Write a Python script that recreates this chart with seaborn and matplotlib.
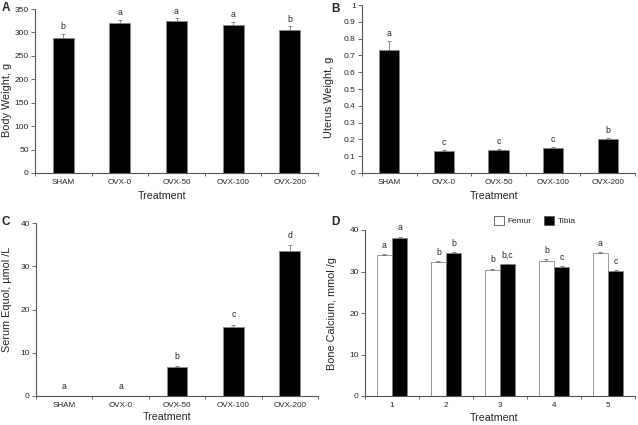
import numpy as np
import pandas as pd
import matplotlib
matplotlib.use('Agg')
import matplotlib.pyplot as plt
import seaborn as sns

# data
treatments = ['SHAM', 'OVX-0', 'OVX-50', 'OVX-100', 'OVX-200']

body_weight = [288, 320, 324, 315, 305]
body_weight_err = [8, 7, 6, 7, 8]
body_weight_sig = ['b', 'a', 'a', 'a', 'b']

uterus_weight = [0.735, 0.13, 0.135, 0.147, 0.202]
uterus_weight_err = [0.05, 0.005, 0.005, 0.006, 0.004]
uterus_weight_sig = ['a', 'c', 'c', 'c', 'b']

equol = [0, 0, 6.6, 16.0, 33.6]
equol_err = [0, 0, 0.3, 0.5, 1.2]
equol_sig = ['a', 'a', 'b', 'c', 'd']

calc_groups = ['1', '2', '3', '4', '5']
femur_ca = [33.9, 32.3, 30.4, 32.6, 34.4]
femur_ca_err = [0.2, 0.3, 0.3, 0.3, 0.2]
femur_sig = ['a', 'b', 'b', 'b', 'a']
tibia_ca = [38.1, 34.5, 31.7, 31.1, 30.2]
tibia_ca_err = [0.3, 0.2, 0.2, 0.3, 0.2]
tibia_sig = ['a', 'b', 'b,c', 'c', 'c']

sns.set_style('white')
plt.rcParams['font.family'] = ['Liberation Sans', 'DejaVu Sans']

fig = plt.figure(figsize=(6.38, 4.25), dpi=100)
W, H = 638, 425


def add_ax(left, top, right, bottom):
    return fig.add_axes([left / W, 1 - bottom / H, (right - left) / W, (bottom - top) / H])


def style_ax(ax, ylabel, ymax, ystep, ylab_x, ylab_y, xlab_x, xlab_y, fmt=None):
    for s in ['top', 'right']:
        ax.spines[s].set_visible(False)
    for s in ['left', 'bottom']:
        ax.spines[s].set_color('#555555')
        ax.spines[s].set_linewidth(0.8)
    ax.set_ylim(0, ymax)
    ticks = np.arange(0, ymax + ystep / 2, ystep)
    ax.set_yticks(ticks)
    if fmt:
        ax.set_yticklabels([fmt(t) for t in ticks])
    ax.set_xlim(-0.5, 4.5)
    ax.set_xticks(range(5))
    ax.set_xticks(np.arange(-0.5, 5, 1), minor=True)
    ax.tick_params(axis='x', which='major', length=0, labelsize=5.8, pad=4)
    ax.tick_params(axis='x', which='minor', length=2.5, width=0.6, color='#555555', direction='out', bottom=True)
    ax.tick_params(axis='y', length=3, width=0.6, color='#555555', direction='out', left=True, labelsize=6, pad=1.5)
    ax.set_xlabel('Treatment', fontsize=7.7)
    ax.set_ylabel(ylabel, fontsize=7.8)
    # label positions given in figure pixels
    bb = ax.get_position()
    ax.yaxis.set_label_coords((ylab_x / W - bb.x0) / bb.width, ((1 - ylab_y / H) - bb.y0) / bb.height)
    ax.xaxis.set_label_coords((xlab_x / W - bb.x0) / bb.width, ((1 - xlab_y / H) - bb.y0) / bb.height)


def simple_panel(ax, vals, errs, sig, ylabel, ymax, ystep, off, labs, fmt=None):
    df = pd.DataFrame({'Treatment': treatments, 'value': vals})
    sns.barplot(data=df, x='Treatment', y='value', color='black', width=0.37,
                edgecolor='#888888', linewidth=0.6, errorbar=None, ax=ax)
    xs = [p.get_x() + p.get_width() / 2 for p in ax.patches]
    ax.errorbar(xs, vals, yerr=[np.zeros(len(errs)), errs], fmt='none',
                ecolor='#777777', elinewidth=0.6, capsize=1.5, capthick=0.6)
    for x, v, e, s in zip(xs, vals, errs, sig):
        ax.text(x, v + e + off, s, ha='center', va='bottom', fontsize=6.2)
    style_ax(ax, ylabel, ymax, ystep, *labs, fmt=fmt)


axA = add_ax(35, 9, 318, 173)
simple_panel(axA, body_weight, body_weight_err, body_weight_sig,
             'Body Weight, g', 350, 50, 6, (12, 99.5, 162, 191))

axB = add_ax(362, 5, 635, 173)
simple_panel(axB, uterus_weight, uterus_weight_err, uterus_weight_sig,
             'Uterus Weight, g', 1.0, 0.1, 0.02, (334, 97.5, 494, 191),
             fmt=lambda t: '0' if t == 0 else ('1' if abs(t - 1) < 1e-9 else f'{t:.1f}'))

axC = add_ax(36, 223, 318, 396)
simple_panel(axC, equol, equol_err, equol_sig,
             'Serum Equol, µmol /L', 40, 10, 1.2, (12.5, 299.5, 167, 412))

# panel D, grouped bars
axD = add_ax(365, 230, 635, 396)
dfD = pd.DataFrame({
    'Treatment': calc_groups * 2,
    'value': femur_ca + tibia_ca,
    'bone': ['Femur'] * 5 + ['Tibia'] * 5,
})
sns.barplot(data=dfD, x='Treatment', y='value', hue='bone',
            palette={'Femur': 'white', 'Tibia': 'black'}, width=0.56,
            edgecolor='#888888', linewidth=0.6, errorbar=None, ax=axD)
bars = axD.patches[:10]
for i, (vals, errs, sig) in enumerate([(femur_ca, femur_ca_err, femur_sig),
                                       (tibia_ca, tibia_ca_err, tibia_sig)]):
    xs = [p.get_x() + p.get_width() / 2 for p in bars[i * 5:(i + 1) * 5]]
    axD.errorbar(xs, vals, yerr=[np.zeros(5), errs], fmt='none',
                 ecolor='#777777', elinewidth=0.6, capsize=1.5, capthick=0.6)
    for x, v, e, s in zip(xs, vals, errs, sig):
        axD.text(x, v + e + 1.0, s, ha='center', va='bottom', fontsize=6.2)
style_ax(axD, 'Bone Calcium, mmol /g', 40, 10, 337, 314, 494, 413)
axD.legend(loc='center', bbox_to_anchor=(0.63, 1.055), ncol=2, frameon=False,
           fontsize=6, handlelength=1.2, handleheight=1.2, columnspacing=1.5,
           handletextpad=0.4, borderaxespad=0)
for h in axD.get_legend().legend_handles:
    h.set_edgecolor('#555555')

for label, x, y in [('A', 2, 2), ('B', 331, 3), ('C', 2, 216), ('D', 331, 216)]:
    fig.text(x / W, 1 - y / H, label, fontsize=8.5, fontweight='bold', va='top')

fig.savefig('out.png', dpi=100)
